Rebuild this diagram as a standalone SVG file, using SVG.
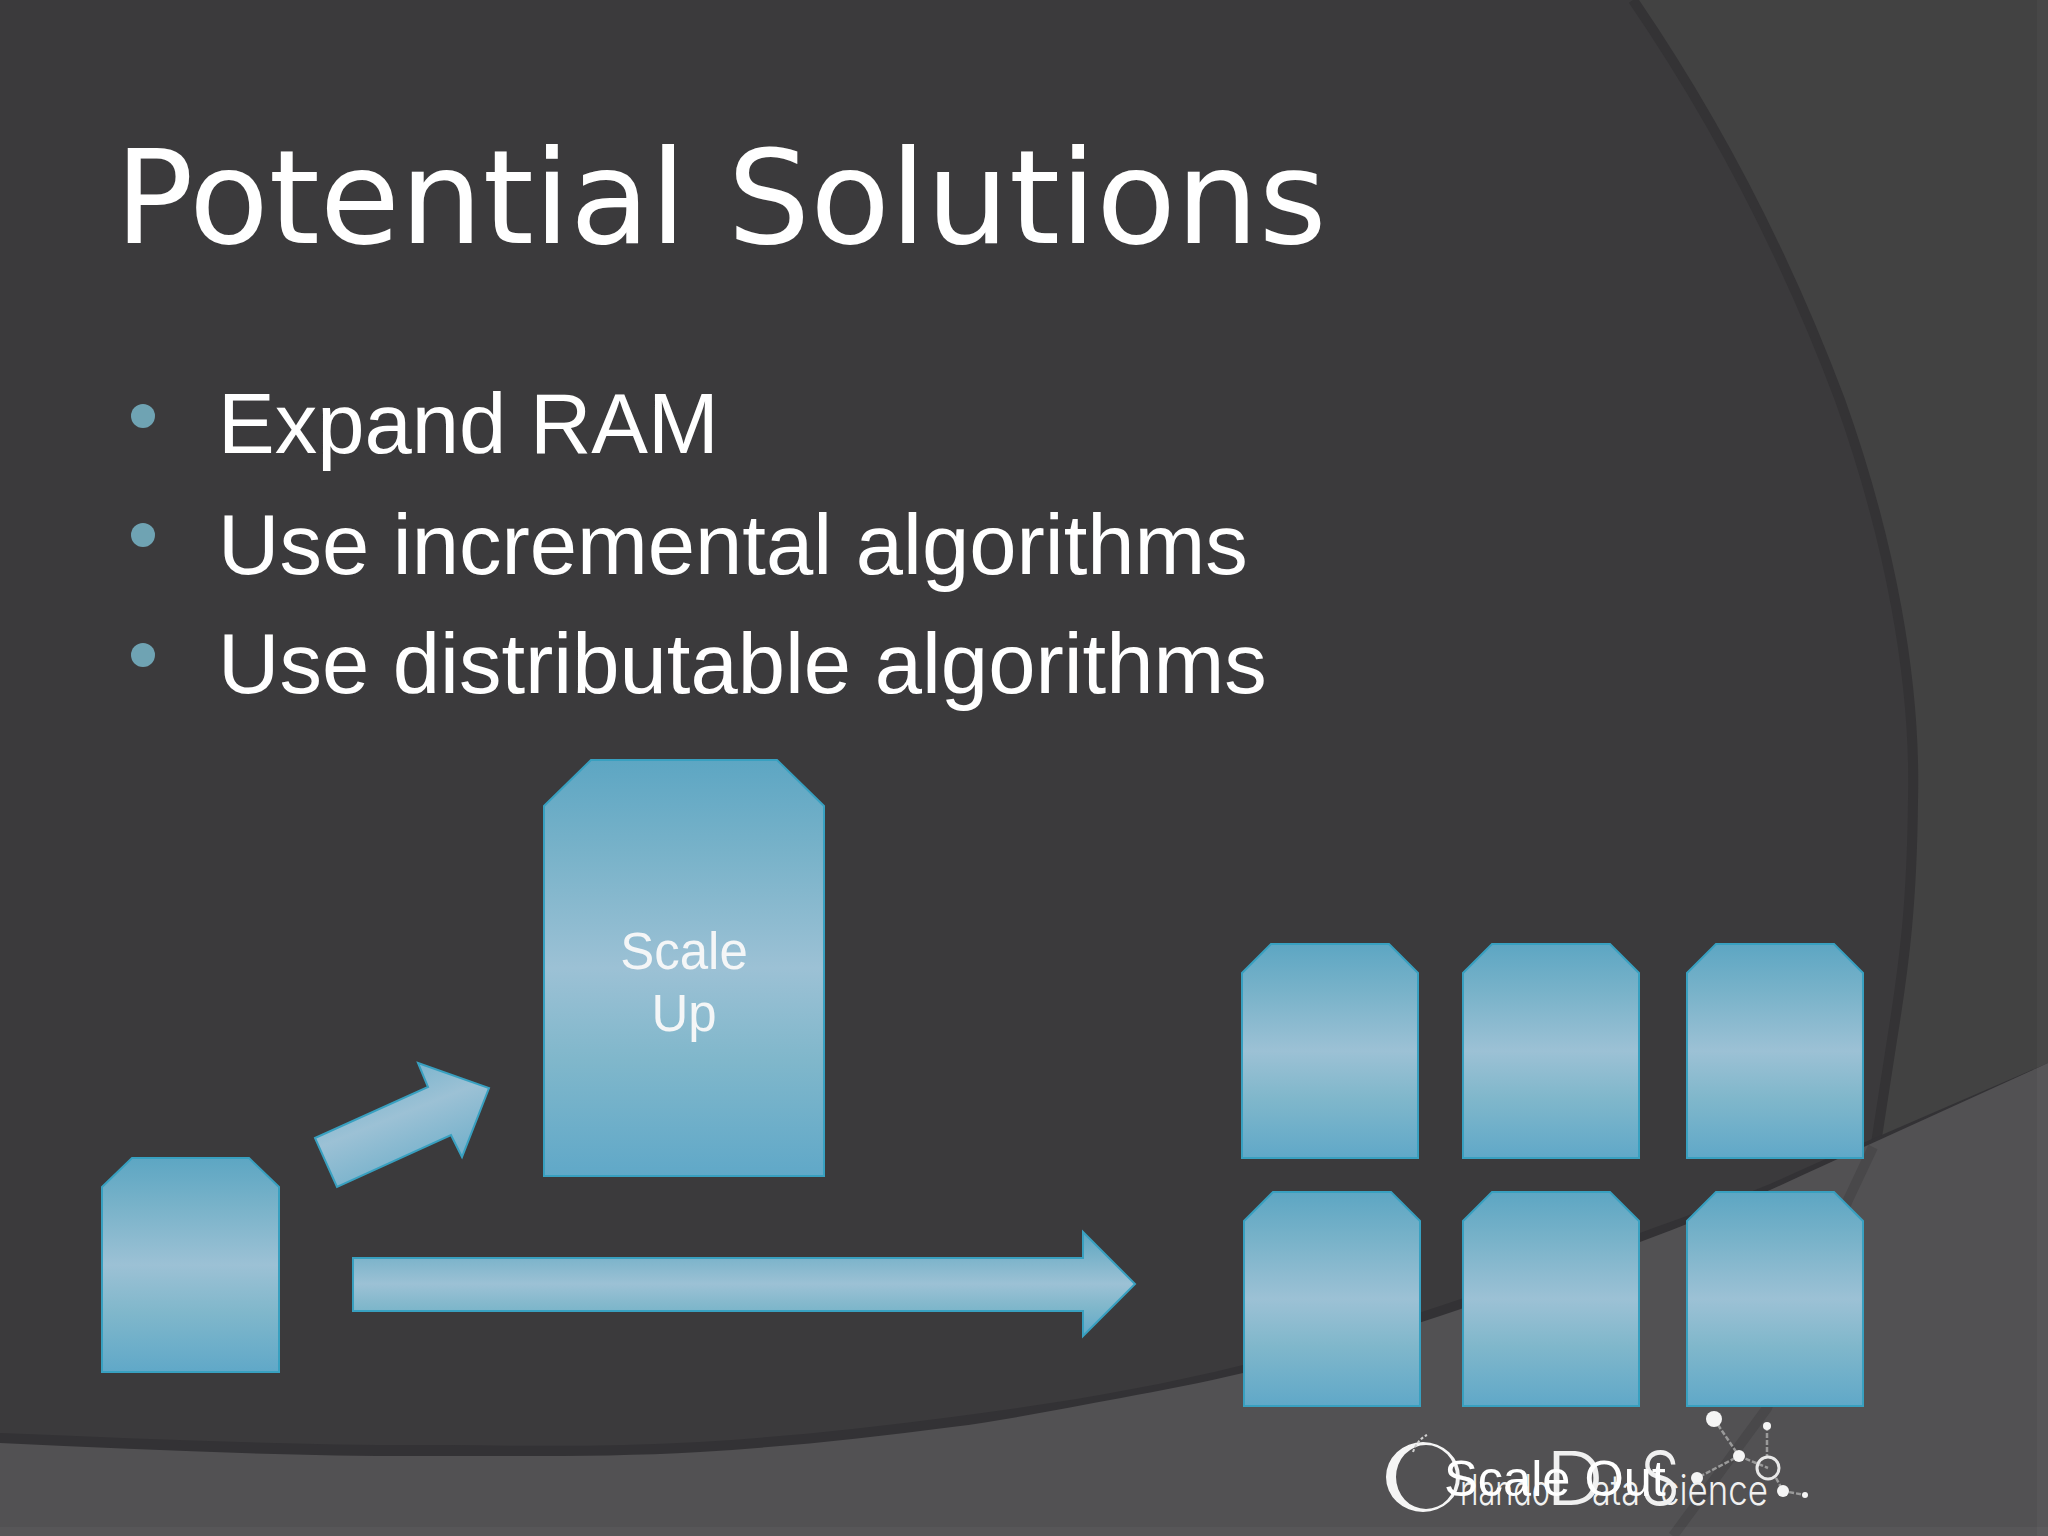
<svg xmlns="http://www.w3.org/2000/svg" width="2048" height="1536" viewBox="0 0 2048 1536">
<defs>
<linearGradient id="box" x1="0" y1="0" x2="0" y2="1">
<stop offset="0" stop-color="#5da6c3"/><stop offset=".22" stop-color="#78b2c9"/><stop offset=".5" stop-color="#9cc1d5"/><stop offset=".72" stop-color="#80b7cb"/><stop offset="1" stop-color="#60a8c8"/>
</linearGradient>
<linearGradient id="diag" gradientUnits="userSpaceOnUse" x1="368" y1="1070" x2="412" y2="1180">
<stop offset="0" stop-color="#74b2cc"/><stop offset=".45" stop-color="#9cc1d5"/><stop offset="1" stop-color="#70afca"/>
</linearGradient>
</defs>
<style>
.n{stroke:#38a0c0;stroke-width:2;fill:url(#box)}
.t{fill:#fff;font-family:"Liberation Sans",Arial,sans-serif}
.b{font-size:85px}
.l{font-size:51px;fill:#f4f6f7;text-anchor:middle}
.dot{fill:#6fa3b3}
.logo{fill:#f5f5f5}
.ll{stroke:#9a9a9a;stroke-width:2.5;fill:none;stroke-dasharray:5 2}
</style>
<g id="background">
<rect width="2048" height="1536" fill="#424242"/>
<path id="arc-fill" d="M0 0H1633C1724 133 1790 267 1840 400C1890 540 1916 680 1913 800C1912 900 1905 960 1892 1040L1875 1150V1536H0Z" fill="#3b3a3c"/>
<path d="M1633 0C1724 133 1790 267 1840 400C1890 540 1916 680 1913 800C1912 900 1905 960 1892 1040L1875 1150" fill="none" stroke="#343335" stroke-width="10"/>
<path d="M0 1433C150 1439 300 1446 446 1445C530 1446 615 1447 700 1442C784 1437 868 1428 952 1417C1060 1403 1150 1388 1243 1365C1309 1348 1374 1328 1440 1306C1507 1284 1573 1258 1640 1233C1683 1217 1727 1202 1770 1184C1806 1168 1841 1152 1877 1137L2048 1063V1536H0Z" fill="#333235"/>
<path d="M0 1443C150 1450 300 1457 446 1456C530 1456 615 1457 700 1452C784 1447 868 1438 952 1427C1008 1420 1065 1408 1121 1398C1162 1390 1202 1383 1243 1373C1309 1356 1374 1338 1440 1316C1507 1294 1573 1267 1640 1242C1683 1226 1727 1208 1770 1190C1806 1174 1841 1157 1877 1141C1934 1115 1991 1089 2048 1063V1536H0Z" fill="#525153"/>
<path d="M1873 1147L1848 1200L1767 1408L1673 1536" fill="none" stroke="#49484a" stroke-width="10"/>
<rect x="2037" width="11" height="1536" fill="#fff" opacity=".03"/>
<rect y="1527" width="2048" height="9" fill="#fff" opacity=".03"/>
</g>
<text id="title" x="115" y="243" class="t" style="font-family:'DejaVu Sans',sans-serif;font-size:130.4px">Potential Solutions</text>
<g id="bullets">
<circle class="dot" cx="143" cy="416" r="12"/><text class="t b" x="218" y="453">Expand RAM</text>
<circle class="dot" cx="143" cy="535" r="12"/><text class="t b" x="218" y="574">Use incremental algorithms</text>
<circle class="dot" cx="143" cy="655" r="12"/><text class="t b" x="218" y="693">Use distributable algorithms</text>
</g>
<g id="connectors">
<polygon id="arrow-up" points="315,1138 428,1087 418,1063 489,1088 462,1157 451,1135 337,1187" fill="url(#diag)" stroke="#38a0c0" stroke-width="2"/>
<polygon id="arrow-out" class="n" points="353,1258 1083,1258 1083,1232 1135,1284 1083,1336 1083,1311 353,1311"/>
</g>
<g id="node-small"><polygon class="n" points="132,1158 249,1158 279,1187 279,1372 102,1372 102,1187"/></g>
<g id="node-scale-up"><polygon class="n" points="591,760 777,760 824,806 824,1176 544,1176 544,806"/>
<text class="t l" x="684" y="969">Scale</text><text class="t l" x="684" y="1031">Up</text></g>
<g id="node-o1"><polygon class="n" points="1271,944 1389,944 1418,973 1418,1158 1242,1158 1242,973"/></g>
<g id="node-o2"><polygon class="n" points="1492,944 1610,944 1639,973 1639,1158 1463,1158 1463,973"/></g>
<g id="node-o3"><polygon class="n" points="1716,944 1834,944 1863,973 1863,1158 1687,1158 1687,973"/></g>
<g id="node-o4"><polygon class="n" points="1273,1192 1391,1192 1420,1221 1420,1406 1244,1406 1244,1221"/></g>
<g id="node-o5"><polygon class="n" points="1492,1192 1610,1192 1639,1221 1639,1406 1463,1406 1463,1221"/></g>
<g id="node-o6"><polygon class="n" points="1716,1192 1834,1192 1863,1221 1863,1406 1687,1406 1687,1221"/></g>
<g id="logo">
<g class="ll"><path d="M1714 1419L1739 1456L1697 1478M1739 1456L1768 1468M1767 1426V1457M1776 1478L1783 1491L1805 1495"/></g>
<g class="logo"><circle cx="1714" cy="1419" r="8"/><circle cx="1739" cy="1456" r="6"/><circle cx="1697" cy="1478" r="6"/><circle cx="1767" cy="1426" r="4"/><circle cx="1783" cy="1491" r="6"/><circle cx="1805" cy="1495" r="3"/></g>
<circle cx="1768" cy="1468" r="11" fill="none" stroke="#e8e8e8" stroke-width="3"/>
<path class="logo" fill-rule="evenodd" d="M1386 1477a37 35 0 1 0 74 0a37 35 0 1 0 -74 0ZM1396 1477a30 32 0 1 0 60 0a30 32 0 1 0 -60 0Z"/>
<path d="M1413 1452Q1417 1440 1427 1435" fill="none" stroke="#cfcfcf" stroke-width="2" stroke-dasharray="3 2"/>
<g style="font-family:Inter,'Liberation Sans',sans-serif;font-weight:300" fill="#f0f0f0">
<text x="1546" y="1505" font-size="74" textLength="58" lengthAdjust="spacingAndGlyphs">D</text>
<text x="1640" y="1505" font-size="74" textLength="40" lengthAdjust="spacingAndGlyphs">S</text>
<text x="1460" y="1505" font-size="42" textLength="90" lengthAdjust="spacingAndGlyphs">rlando</text>
<text x="1592" y="1505" font-size="42" textLength="48" lengthAdjust="spacingAndGlyphs">ata</text>
<text x="1660" y="1505" font-size="42" textLength="108" lengthAdjust="spacingAndGlyphs">cience</text>
</g>
<text class="t l" x="1555" y="1496" style="fill:#fff;font-size:50.5px">Scale Out</text>
</g>
</svg>
